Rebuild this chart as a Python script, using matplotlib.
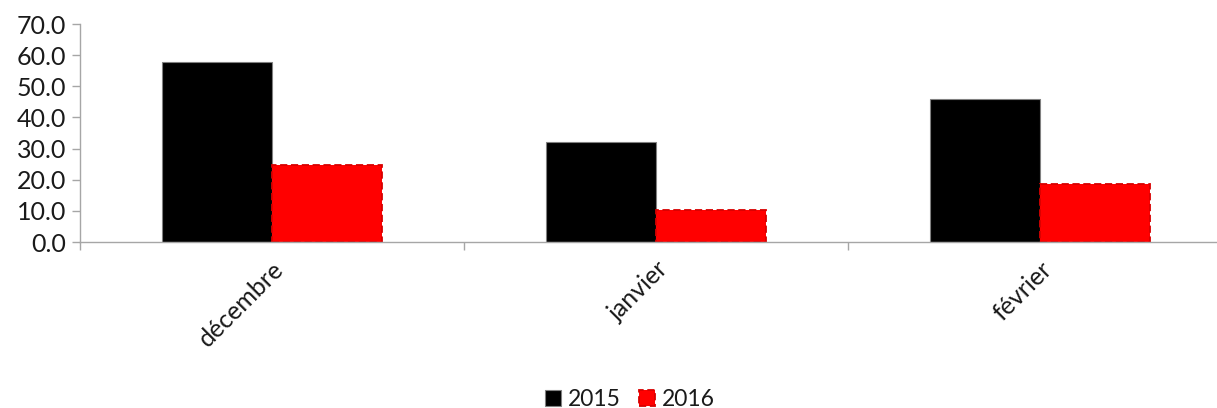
import matplotlib
matplotlib.use('Agg')
import matplotlib.pyplot as plt
import numpy as np

months = ['décembre', 'janvier', 'février']
years = ['2015', '2016']
values_2015 = [57.9, 32.2, 45.9]
values_2016 = [24.8, 10.3, 18.5]

plt.rcParams['font.family'] = ['Lato', 'DejaVu Sans']

fig = plt.figure(figsize=(12.17, 4.08), dpi=100)
# plot area runs past the right edge of the figure
ax = fig.add_axes([80 / 1217, 166 / 408, 1152 / 1217, 218 / 408])

x = np.arange(len(months))
width = 0.2857
b1 = ax.bar(x - width / 2, values_2015, width, color='black',
            edgecolor='#808080', linewidth=0.8, label=years[0])
b2 = ax.bar(x + width / 2, values_2016, width, color='#FF0000',
            edgecolor='#D80000', linewidth=1.3, linestyle=(0, (4, 2)),
            label=years[1])

ax.set_xlim(-0.5, 2.5)
ax.set_ylim(0, 70)
ax.set_yticks(np.arange(0, 71, 10))
ax.set_yticklabels([f'{v:.1f}' for v in np.arange(0, 71, 10)])

# category boundaries carry the tick marks, labels sit at the centres
ax.set_xticks([-0.5, 0.5, 1.5, 2.5])
ax.set_xticklabels([])
ax.set_xticks(x, minor=True)
ax.set_xticklabels(months, minor=True, rotation=45, ha='right',
                   rotation_mode='anchor', fontsize=18, color='#1a1a1a')
ax.tick_params(axis='x', which='minor', length=0, pad=11)
ax.tick_params(axis='x', which='major', length=6, color='#A6A6A6', width=1)
ax.tick_params(axis='y', length=6, color='#A6A6A6', width=1,
               labelsize=18, labelcolor='#1a1a1a', pad=4)

for side in ['top', 'right']:
    ax.spines[side].set_visible(False)
for side in ['left', 'bottom']:
    ax.spines[side].set_color('#A6A6A6')
    ax.spines[side].set_linewidth(1)

fig.legend(handles=[b1, b2], labels=years, loc='lower center',
           bbox_to_anchor=(630 / 1217, -0.055), ncol=2, frameon=False,
           fontsize=16.5, handlelength=0.7, handleheight=0.7,
           handletextpad=0.3, columnspacing=0.8, labelcolor='#1a1a1a')

fig.savefig('out.png', dpi=100)
